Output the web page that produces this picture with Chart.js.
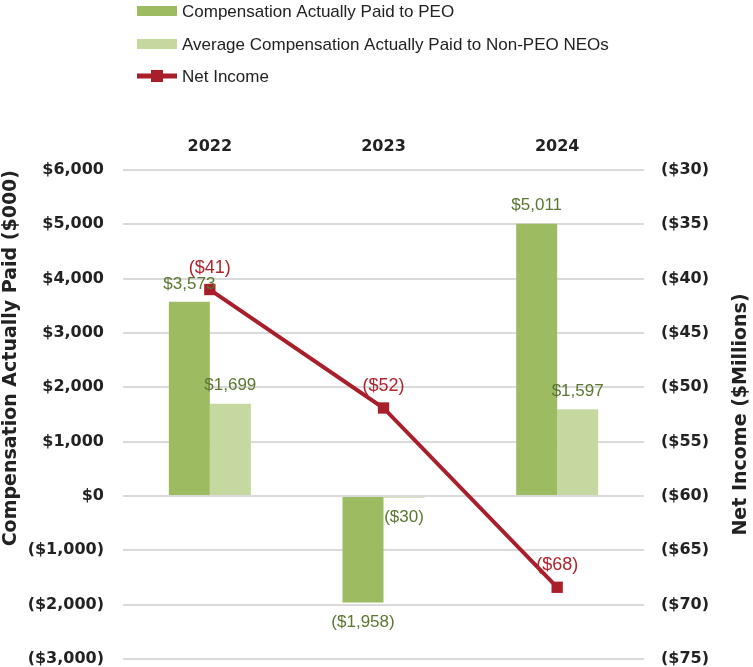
<!DOCTYPE html>
<html>
<head>
<meta charset="utf-8">
<script src="https://cdn.jsdelivr.net/npm/chart.js@4/dist/chart.umd.min.js"></script>
<style>
  html, body { margin: 0; padding: 0; background: #ffffff; }
  #wrap { position: relative; width: 753px; height: 667px; }
</style>
</head>
<body>
<div id="wrap"><canvas id="c" width="753" height="667"></canvas></div>
<script>
const years = ['2022', '2023', '2024'];
const peoPaid = [3573, -1958, 5011];
const neoPaid = [1699, -30, 1597];
const netIncome = [-41, -51.9, -68.4];

const leftTicks = { min: -3000, max: 6000, step: 1000 };
const rightTicks = { min: -75, max: -30, step: 5 };

const seriesNames = ['Compensation Actually Paid to PEO', 'Average Compensation Actually Paid to Non-PEO NEOs', 'Net Income'];
const leftTitle = 'Compensation Actually Paid ($000)';
const rightTitle = 'Net Income ($Millions)';

const C_PEO = '#9dbb61';
const C_NEO = '#c5d8a0';
const C_NI = '#a81f2b';
const C_GREEN_LBL = '#5b7630';
const C_RED_LBL = '#b1242e';
const C_TEXT = '#222222';

const TICK_FONT = { family: 'DejaVu Sans', size: 16, weight: 'bold' };

function fmtMoney(v) {
  const s = '$' + Math.abs(Math.round(v)).toLocaleString('en-US');
  return v < 0 ? '(' + s + ')' : s;
}

const customPlugin = {
  id: 'custom',
  afterDatasetsDraw(chart) {
    const ctx = chart.ctx;
    ctx.save();
    ctx.font = '17px "Liberation Sans", Arial, sans-serif';
    ctx.textAlign = 'center';
    ctx.textBaseline = 'middle';
    [0, 1].forEach(di => {
      const meta = chart.getDatasetMeta(di);
      const data = chart.data.datasets[di].data;
      meta.data.forEach((el, i) => {
        const v = data[i];
        ctx.fillStyle = C_GREEN_LBL;
        if (v >= 0) ctx.fillText(fmtMoney(v), el.x, el.y - 18);
        else ctx.fillText(fmtMoney(v), el.x, Math.max(el.y, el.base) + 20);
      });
    });
    const lm = chart.getDatasetMeta(2);
    const ld = chart.data.datasets[2].data;
    ctx.font = '18px "Liberation Sans", Arial, sans-serif';
    lm.data.forEach((el, i) => {
      ctx.fillStyle = C_RED_LBL;
      ctx.fillText(fmtMoney(ld[i]), el.x, el.y - 22);
    });
    ctx.restore();
  },
  afterDraw(chart) {
    const ctx = chart.ctx;
    const area = chart.chartArea;
    ctx.save();
    ctx.fillStyle = C_TEXT;
    ctx.font = 'bold 19px "DejaVu Sans", sans-serif';
    ctx.textBaseline = 'middle';
    ctx.save();
    ctx.translate(11, area.top);
    ctx.rotate(-Math.PI / 2);
    ctx.textAlign = 'right';
    ctx.fillText(leftTitle, 0, 0);
    ctx.restore();
    ctx.save();
    ctx.translate(741, (area.top + area.bottom) / 2);
    ctx.rotate(-Math.PI / 2);
    ctx.textAlign = 'center';
    ctx.fillText(rightTitle, 0, 0);
    ctx.restore();
    const rows = [11, 44, 76];
    ctx.font = '17px "Liberation Sans", Arial, sans-serif';
    ctx.textAlign = 'left';
    ctx.textBaseline = 'middle';
    chart.data.datasets.forEach((ds, i) => {
      const y = rows[i];
      if (ds.type === 'line') {
        ctx.strokeStyle = ds.borderColor;
        ctx.lineWidth = 5;
        ctx.beginPath();
        ctx.moveTo(137, y);
        ctx.lineTo(177, y);
        ctx.stroke();
        ctx.fillStyle = ds.borderColor;
        ctx.fillRect(151, y - 6, 12, 12);
      } else {
        ctx.fillStyle = ds.backgroundColor;
        ctx.fillRect(137, y - 5, 40, 10);
      }
      ctx.fillStyle = C_TEXT;
      ctx.fillText(ds.label, 182, y + 1);
    });
    ctx.restore();
  }
};

new Chart(document.getElementById('c'), {
  data: {
    labels: years,
    datasets: [
      { type: 'bar', label: seriesNames[0], data: peoPaid, backgroundColor: C_PEO, yAxisID: 'y', order: 2,
        categoryPercentage: 0.472, barPercentage: 1.0 },
      { type: 'bar', label: seriesNames[1], data: neoPaid, backgroundColor: C_NEO, yAxisID: 'y', order: 2,
        categoryPercentage: 0.472, barPercentage: 1.0 },
      { type: 'line', label: seriesNames[2], data: netIncome, borderColor: C_NI, backgroundColor: C_NI,
        borderWidth: 4, pointStyle: 'rect', pointRadius: 8, pointHoverRadius: 8, pointBackgroundColor: C_NI,
        pointBorderWidth: 0, yAxisID: 'y1', order: 0, tension: 0 }
    ]
  },
  options: {
    responsive: false,
    devicePixelRatio: 1,
    animation: false,
    layout: { padding: { top: 0, bottom: 0, left: 0, right: 0 } },
    plugins: { legend: { display: false }, tooltip: { enabled: false } },
    scales: {
      x: {
        position: 'top',
        grid: { display: false, drawTicks: false },
        border: { display: false },
        ticks: { color: C_TEXT, font: TICK_FONT, padding: 14, maxRotation: 0 },
        afterFit(s) { s.height = 170; s.paddingLeft = 0; s.paddingRight = 0; }
      },
      y: {
        position: 'left',
        min: leftTicks.min, max: leftTicks.max,
        grid: { color: '#dadada', lineWidth: 2, drawTicks: false },
        border: { display: false },
        ticks: { stepSize: leftTicks.step, color: C_TEXT, font: TICK_FONT, padding: 19, callback: v => fmtMoney(v) },
        afterFit(s) { s.width = 123; s.paddingTop = 0; s.paddingBottom = 0; }
      },
      y1: {
        position: 'right',
        min: rightTicks.min, max: rightTicks.max,
        grid: { drawOnChartArea: false, drawTicks: false },
        border: { display: false },
        ticks: { stepSize: rightTicks.step, color: C_TEXT, font: TICK_FONT, padding: 17, callback: v => fmtMoney(v) },
        afterFit(s) { s.width = 109; s.paddingTop = 0; s.paddingBottom = 0; }
      }
    }
  },
  plugins: [customPlugin]
});
</script>
</body>
</html>
